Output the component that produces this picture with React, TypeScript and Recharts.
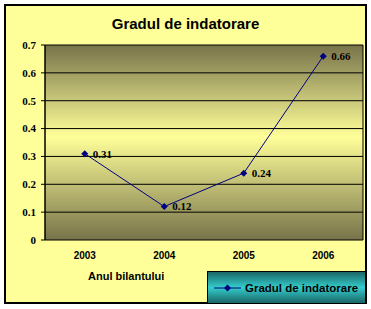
import { CartesianGrid, Legend, Line, LineChart, XAxis, YAxis, LabelList } from 'recharts';

const years = ['2003', '2004', '2005', '2006'];
const values = [0.31, 0.12, 0.24, 0.66];
const yTicks = [0, 0.1, 0.2, 0.3, 0.4, 0.5, 0.6, 0.7];
const bandEdges = [0, 1, 2, 3, 4];
const title = 'Gradul de indatorare';
const xTitle = 'Anul bilantului';

const data = years.map((year, i) => ({ year, value: values[i] }));

const NAVY = '#000080';

function Diamond(props: any) {
  const { cx, cy } = props;
  if (cx == null || cy == null) return null;
  return <path d={`M${cx},${cy - 3.5}L${cx + 3.5},${cy}L${cx},${cy + 3.5}L${cx - 3.5},${cy}Z`} fill={NAVY} />;
}

function LegendBox() {
  return (
    <div
      style={{
        width: 159,
        height: 33,
        boxSizing: 'border-box',
        border: '1.5px solid #000',
        background: 'linear-gradient(to bottom, #1b6666 0%, #34cccc 50%, #1b6666 100%)',
        display: 'flex',
        alignItems: 'center',
        whiteSpace: 'nowrap',
        fontFamily: 'Liberation Sans, Arial, sans-serif',
        fontWeight: 'bold',
        fontSize: 11.5,
        color: '#000',
      }}
    >
      <svg width={28} height={10} style={{ marginLeft: 6, flex: 'none' }}>
        <line x1={0} y1={5} x2={27} y2={5} stroke={NAVY} strokeWidth={1} />
        <path d="M13.5,1.5L17,5L13.5,8.5L10,5Z" fill={NAVY} />
      </svg>
      <span style={{ marginLeft: 3 }}>{title}</span>
    </div>
  );
}

export default function App() {
  return (
    <div style={{ position: 'absolute', left: 0, top: 0, width: 371, height: 309 }}>
      <div
        style={{
          position: 'absolute',
          left: 4,
          top: 4,
          width: 363,
          height: 300,
          boxSizing: 'border-box',
          border: '2px solid #000',
          background: '#ffff99',
        }}
      />
      <div
        style={{
          position: 'absolute',
          left: 0,
          top: 15,
          width: 371,
          textAlign: 'center',
          fontFamily: 'Liberation Sans, Arial, sans-serif',
          fontWeight: 'bold',
          fontSize: 15,
        }}
      >
        {title}
      </div>
      <div
        style={{
          position: 'absolute',
          left: 88,
          top: 270,
          fontFamily: 'Liberation Sans, Arial, sans-serif',
          fontWeight: 'bold',
          fontSize: 11,
        }}
      >
        {xTitle}
      </div>
      <div style={{ position: 'absolute', left: 0, top: 0 }}>
        <LineChart width={371} height={309} data={data} margin={{ top: 45, right: 8, left: 0, bottom: 45 }}>
          <defs>
            <linearGradient id="plotGrad" x1="0" y1="0" x2="0" y2="1">
              <stop offset="0%" stopColor="#77734a" />
              <stop offset="47%" stopColor="#ffff99" />
              <stop offset="100%" stopColor="#77734a" />
            </linearGradient>
          </defs>
          <CartesianGrid xAxisId="grid" fill="url(#plotGrad)" stroke="#000" strokeWidth={1} strokeOpacity={1} />
          <XAxis
            dataKey="year"
            scale="band"
            axisLine={false}
            tickLine={false}
            tickMargin={6}
            height={20}
            tick={{ fill: '#000', fontSize: 10, fontWeight: 'bold', fontFamily: 'Liberation Sans, Arial, sans-serif' }}
          />
          <XAxis
            xAxisId="grid"
            type="number"
            domain={[0, 4]}
            ticks={bandEdges}
            tick={false}
            tickSize={4}
            tickLine={{ stroke: '#000' }}
            axisLine={false}
            height={4}
          />
          <YAxis
            domain={[0, 0.7]}
            ticks={yTicks}
            width={45}
            tickSize={4}
            tickMargin={5}
            axisLine={{ stroke: '#000' }}
            tickLine={{ stroke: '#000' }}
            tick={{ fill: '#000', fontSize: 11, fontWeight: 'bold', fontFamily: 'Liberation Serif, Times New Roman, serif' }}
          />
          <Legend
            layout="horizontal"
            verticalAlign="middle"
            align="center"
            wrapperStyle={{ left: 207, top: 271, width: 159, height: 33, bottom: 'auto', right: 'auto' }}
            content={() => <LegendBox />}
          />
          <Line
            type="linear"
            dataKey="value"
            name={title}
            stroke={NAVY}
            strokeWidth={1}
            dot={<Diamond />}
            activeDot={false}
            isAnimationActive={false}
          >
            <LabelList
              dataKey="value"
              position="right"
              offset={8}
              style={{ fill: '#000', fontSize: 11, fontWeight: 'bold', fontFamily: 'Liberation Serif, Times New Roman, serif' }}
            />
          </Line>
        </LineChart>
      </div>
    </div>
  );
}
